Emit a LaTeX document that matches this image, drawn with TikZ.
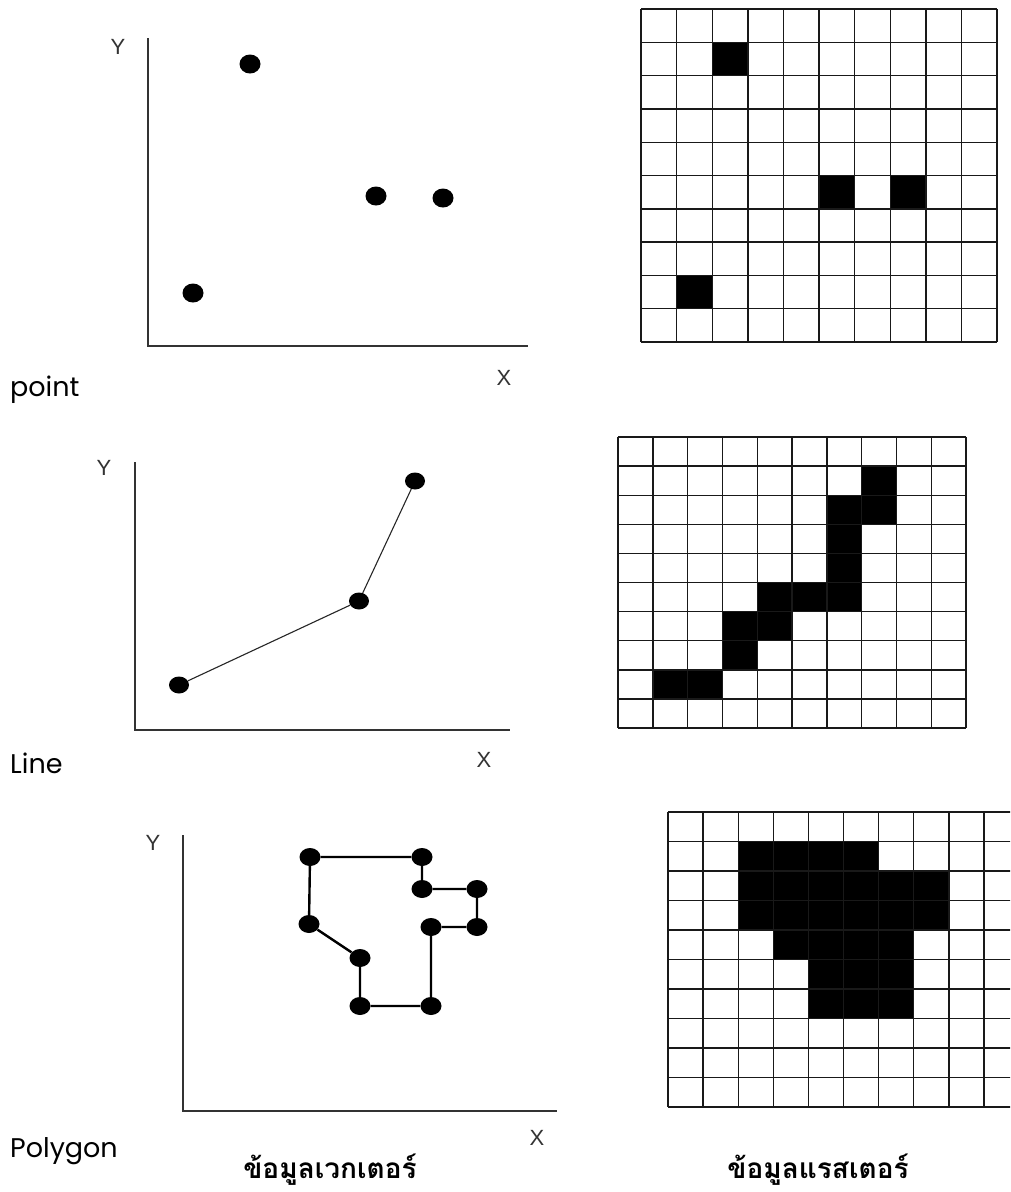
\documentclass[tikz,border=0pt]{standalone}
\usepackage{fontspec}
\newfontfamily\thaifont[Script=Thai]{Loma}
\newfontfamily\labelfont{Poppins}
\newfontfamily\axisfont{Liberation Sans}
\usetikzlibrary{shapes.geometric, positioning}

\begin{document}
\begin{tikzpicture}[
  x=1pt, y=-1pt,
  axis/.style={line width=1.5pt, draw=black!80},
  dot/.style={ellipse, fill=black, inner sep=0pt, minimum width=21pt, minimum height=19pt},
  ldot/.style={dot, minimum width=20pt, minimum height=17pt},
  pdot/.style={dot, minimum width=21pt, minimum height=18pt},
  lineseg/.style={line width=1.1pt, draw=black!85},
  polyseg/.style={line width=2.4pt},
  gridline/.style={line width=1.4pt, draw=black!90},
  cell/.style={fill=black},
  axislabel/.style={font=\axisfont\fontsize{22}{26}\selectfont, text=black!80},
  kind/.style={font=\labelfont\fontsize{27}{32}\selectfont, anchor=base west, inner sep=0pt},
  caption/.style={font=\thaifont\bfseries\fontsize{28}{34}\selectfont, anchor=base, inner sep=0pt},
]
  \useasboundingbox (0,0) rectangle (1010,1192);
  \clip (0,0) rectangle (1010,1192);
  \fill[white] (0,0) rectangle (1010,1192);

  % point
  \coordinate (p-top) at (148,38);
  \coordinate (p-org) at (148,346);
  \coordinate (p-end) at (528,346);
  \draw[axis] (p-top) -- (p-org) -- (p-end);
  \node[axislabel] (p-ylab) at (118,47) {Y};
  \node[axislabel] (p-xlab) at (504,378) {X};
  \node[dot] (p1) at (250,64) {};
  \node[dot] (p2) at (376,196) {};
  \node[dot] (p3) at (443,198) {};
  \node[dot] (p4) at (193,293) {};
  \node[kind] (p-name) at (10,396) {point};

  \begin{scope}[shift={(641,9)}, x=35.6pt, y=-33.3pt]
    \foreach \c/\r in {2/1,5/5,7/5,1/8}
      \fill[cell] (\c,\r) rectangle ++(1,1);
    \foreach \i in {0,...,10} {
      \draw[gridline] (\i,0) -- (\i,10);
      \draw[gridline] (0,\i) -- (10,\i);
    }
  \end{scope}

  % line
  \coordinate (l-top) at (135,462);
  \coordinate (l-org) at (135,730);
  \coordinate (l-end) at (510,730);
  \draw[axis] (l-top) -- (l-org) -- (l-end);
  \node[axislabel] (l-ylab) at (104,468) {Y};
  \node[axislabel] (l-xlab) at (484,760) {X};
  \node[ldot] (l1) at (179,685) {};
  \node[ldot] (l2) at (359,601) {};
  \node[ldot] (l3) at (415,481) {};
  \draw[lineseg] (l1) -- (l2) -- (l3);
  \node[kind] (l-name) at (10,773) {Line};

  \begin{scope}[shift={(618,437)}, x=34.8pt, y=-29.1pt]
    \foreach \c/\r in {7/1,6/2,7/2,6/3,6/4,4/5,5/5,6/5,3/6,4/6,3/7,1/8,2/8}
      \fill[cell] (\c,\r) rectangle ++(1,1);
    \foreach \i in {0,...,10} {
      \draw[gridline] (\i,0) -- (\i,10);
      \draw[gridline] (0,\i) -- (10,\i);
    }
  \end{scope}

  % polygon
  \coordinate (g-top) at (183,835);
  \coordinate (g-org) at (183,1111);
  \coordinate (g-end) at (557,1111);
  \draw[axis] (g-top) -- (g-org) -- (g-end);
  \node[axislabel] (g-ylab) at (153,843) {Y};
  \node[axislabel] (g-xlab) at (537,1138) {X};
  \node[pdot] (ga) at (310,857) {};
  \node[pdot] (gb) at (422,857) {};
  \node[pdot] (gc) at (422,889) {};
  \node[pdot] (gd) at (477,889) {};
  \node[pdot] (ge) at (477,927) {};
  \node[pdot] (gf) at (431,927) {};
  \node[pdot] (gg) at (431,1006) {};
  \node[pdot] (gh) at (360,1006) {};
  \node[pdot] (gi) at (360,958) {};
  \node[pdot] (gj) at (309,924) {};
  \draw[polyseg] (ga) -- (gb) -- (gc) -- (gd) -- (ge) -- (gf) -- (gg)
    -- (gh) -- (gi) -- (gj) -- (ga);
  \node[kind] (g-name) at (10,1157) {Polygon};

  \begin{scope}[shift={(668,812)}, x=35.1pt, y=-29.5pt]
    \fill[cell] (2,1) rectangle (6,2);
    \fill[cell] (2,2) rectangle (8,4);
    \fill[cell] (3,4) rectangle (7,5);
    \fill[cell] (4,5) rectangle (7,7);
    \foreach \i in {0,...,10} {
      \draw[gridline] (\i,0) -- (\i,10);
      \draw[gridline] (0,\i) -- (10,\i);
    }
  \end{scope}

  \node[caption] (vec) at (330,1178) {ข้อมูลเวกเตอร์};
  \node[caption] (ras) at (818,1178) {ข้อมูลแรสเตอร์};
\end{tikzpicture}
\end{document}
